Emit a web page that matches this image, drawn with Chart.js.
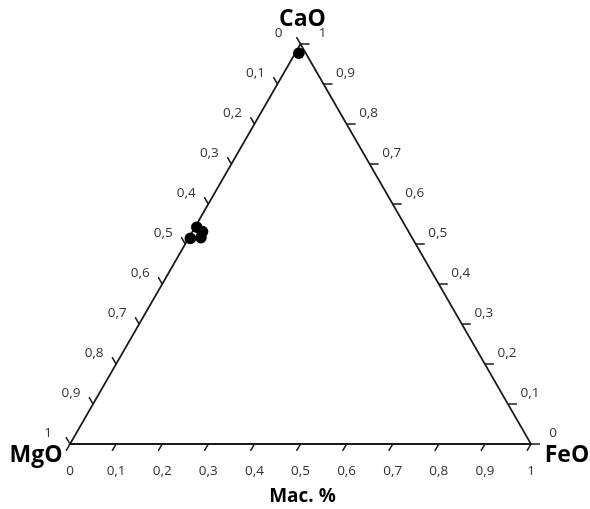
<!DOCTYPE html>
<html>
<head>
<meta charset="utf-8">
<script src="https://cdn.jsdelivr.net/npm/chart.js@4"></script>
<style>
html,body{margin:0;padding:0;background:#fff;}
#wrap{width:590px;height:509px;position:relative;}
</style>
</head>
<body>
<div id="wrap"><canvas id="c" width="590" height="509"></canvas></div>
<script>
// Samples (fractions)
const samples = ['S1','S2','S3','S4','S5'];
const cao = [0.977, 0.542, 0.514, 0.531, 0.516];
const feo = [0.008, 0.004, 0.004, 0.022, 0.026];
const mgo = [0.015, 0.454, 0.482, 0.447, 0.458];

const tickValues = [0, 0.1, 0.2, 0.3, 0.4, 0.5, 0.6, 0.7, 0.8, 0.9, 1];
const tickLabels = ['0','0,1','0,2','0,3','0,4','0,5','0,6','0,7','0,8','0,9','1'];
const vertexLabels = {top: 'CaO', left: 'MgO', right: 'FeO'};
const axisTitle = 'Mac. %';

// ternary -> cartesian (x along base, y = CaO height fraction)
function toXY(c, f) { return {x: f + c / 2, y: c}; }

const points = cao.map((c, i) => toXY(c, feo[i]));

const ternaryPlugin = {
  id: 'ternary',
  beforeDatasetsDraw(chart) {
    const ctx = chart.ctx;
    const xs = chart.scales.x, ys = chart.scales.y;
    const P = (x, y) => [xs.getPixelForValue(x), ys.getPixelForValue(y)];
    const A = P(0, 0), B = P(1, 0), C = P(0.5, 1);
    ctx.save();
    ctx.strokeStyle = '#1a1a1a';
    ctx.lineWidth = 1.8;
    ctx.beginPath();
    ctx.moveTo(A[0], A[1]); ctx.lineTo(B[0], B[1]); ctx.lineTo(C[0], C[1]); ctx.closePath();
    ctx.stroke();

    const L = 8;
    ctx.lineWidth = 1.5;
    ctx.font = '13.5px "Open Sans", "Liberation Sans", sans-serif';
    ctx.fillStyle = '#333';
    ctx.textAlign = 'center';
    ctx.textBaseline = 'middle';
    tickValues.forEach((v, i) => {
      // bottom axis: FeO
      let p = P(v, 0);
      ctx.beginPath(); ctx.moveTo(p[0], p[1]); ctx.lineTo(p[0] - 0.5 * L, p[1] + 0.866 * L); ctx.stroke();
      ctx.fillText(tickLabels[i], p[0], p[1] + 27);
      // left axis: MgO (0 at top, 1 at bottom)
      const cl = 1 - v;
      p = P(cl / 2, cl);
      ctx.beginPath(); ctx.moveTo(p[0], p[1]); ctx.lineTo(p[0] - 0.5 * L, p[1] - 0.866 * L); ctx.stroke();
      ctx.fillText(tickLabels[i], p[0] - 22, p[1] - 11);
      // right axis: CaO (0 at bottom, 1 at top)
      p = P(1 - v / 2, v);
      ctx.beginPath(); ctx.moveTo(p[0], p[1]); ctx.lineTo(p[0] + L + 1, p[1]); ctx.stroke();
      ctx.fillText(tickLabels[i], p[0] + 22, p[1] - 11);
    });

    ctx.fillStyle = '#000';
    ctx.font = 'bold 23px "Open Sans", "Liberation Sans", sans-serif';
    ctx.fillText(vertexLabels.top, C[0] + 2, C[1] - 25);
    ctx.fillText(vertexLabels.left, A[0] - 34, A[1] + 11);
    ctx.fillText(vertexLabels.right, B[0] + 36, B[1] + 11);
    ctx.font = 'bold 19px "Open Sans", "Liberation Sans", sans-serif';
    ctx.fillText(axisTitle, (A[0] + B[0]) / 2 + 2, A[1] + 53);
    ctx.restore();
  }
};

new Chart(document.getElementById('c'), {
  type: 'scatter',
  data: {
    labels: samples,
    datasets: [{
      data: points,
      backgroundColor: '#000',
      borderColor: '#000',
      pointRadius: 5.8,
      pointHoverRadius: 5.8,
      borderWidth: 0
    }]
  },
  options: {
    responsive: false,
    animation: false,
    devicePixelRatio: 1,
    layout: {padding: {left: 70, right: 59, top: 44, bottom: 65}},
    plugins: {legend: {display: false}, tooltip: {enabled: false}},
    scales: {
      x: {type: 'linear', min: 0, max: 1, display: false},
      y: {type: 'linear', min: 0, max: 1, display: false}
    }
  },
  plugins: [ternaryPlugin]
});
</script>
</body>
</html>
